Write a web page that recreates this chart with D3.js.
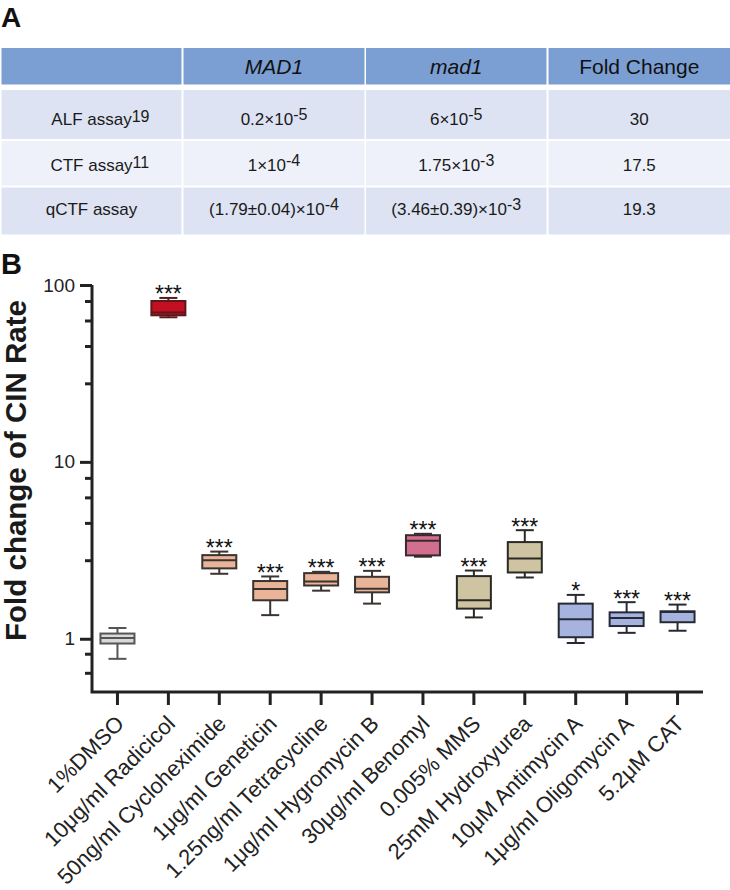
<!DOCTYPE html>
<html>
<head>
<meta charset="utf-8">
<script src="https://cdn.jsdelivr.net/npm/d3@7"></script>
<style>
  html, body { margin: 0; padding: 0; background: #fff; }
  svg { display: block; font-family: "Liberation Sans", Arial, Helvetica, sans-serif; }
</style>
</head>
<body>
<svg id="chart" width="730" height="890"></svg>
<script>
// ---------------- Panel A data (table) ----------------
const tableHeaders = ["", "MAD1", "mad1", "Fold Change"];
const headerItalic = [false, true, true, false];
const assayNames = ["ALF assay", "CTF assay", "qCTF assay"];
const assayRefs = ["19", "11", ""];
const wtBase = ["0.2×10", "1×10", "(1.79±0.04)×10"];
const wtExp = ["-5", "-4", "-4"];
const mutBase = ["6×10", "1.75×10", "(3.46±0.39)×10"];
const mutExp = ["-5", "-3", "-3"];
const foldChange = ["30", "17.5", "19.3"];

// ---------------- Panel B data (box plots) ----------------
const categories = ["1%DMSO", "10μg/ml Radicicol", "50ng/ml Cycloheximide", "1μg/ml Geneticin",
  "1.25ng/ml Tetracycline", "1μg/ml Hygromycin B", "30μg/ml Benomyl", "0.005% MMS",
  "25mM Hydroxyurea", "10μM Antimycin A", "1μg/ml Oligomycin A", "5.2μM CAT"];
const whiskerLow  = [0.77, 65.7, 2.33, 1.36, 1.87, 1.58, 2.91, 1.32, 2.22, 0.946, 1.08, 1.11];
const q1          = [0.94, 67.4, 2.50, 1.65, 2.00, 1.83, 2.96, 1.48, 2.37, 1.02, 1.18, 1.24];
const median      = [1.01, 69.8, 2.78, 1.91, 2.11, 1.92, 3.58, 1.65, 2.84, 1.29, 1.31, 1.415];
const q3          = [1.07, 81.2, 2.97, 2.12, 2.35, 2.24, 3.85, 2.26, 3.52, 1.58, 1.41, 1.43];
const whiskerHigh = [1.15, 84.5, 3.11, 2.25, 2.39, 2.42, 3.92, 2.43, 4.11, 1.77, 1.61, 1.56];
const significance = ["", "***", "***", "***", "***", "***", "***", "***", "***", "*", "***", "***"];
const yMajorTicks = [1, 10, 100];
const yTickLabels = ["1", "10", "100"];
const yMinorTicks = [0.642, 0.823, 2.78, 4.52, 6.30, 8.12, 27.8, 45.2, 63.0, 81.2];
const yDomain = [0.5, 100];
const yAxisTitle = "Fold change of CIN Rate";

// ---------------- styles ----------------
const boxFill = ["#d9d9d9", "#c40f22", "#e9b498", "#e9b498", "#e9b498", "#e9b498",
  "#d26f8e", "#cec4a1", "#cec4a1", "#a5b3de", "#a5b3de", "#a5b3de"];
const boxStroke = ["#555", "#5a1a1a", "#3a3330", "#3a3330", "#3a3330", "#3a3330",
  "#3a2a30", "#2a2a25", "#2a2a25", "#252a35", "#252a35", "#252a35"];

const svg = d3.select("#chart");
svg.append("rect").attr("width", 730).attr("height", 890).attr("fill", "#fff");

// ---------------- Panel A ----------------
svg.append("text").attr("x", 1).attr("y", 27).attr("font-size", 28).attr("font-weight", "bold")
  .attr("fill", "#111").text("A");

const colX0 = [1.5, 183.5, 366, 548.5];
const colX1 = [181.5, 364.5, 546.5, 730];
const rowY0 = [48, 90, 141, 187.5];
const rowY1 = [84.5, 139, 185.5, 234.5];
const rowFill = ["#7b9fd3", "#dde3f2", "#eef1f9", "#dde3f2"];
const rowBaseline = [74, 124.5, 171, 215];

const tbl = svg.append("g");
for (let r = 0; r < 4; r++) {
  for (let c = 0; c < 4; c++) {
    tbl.append("rect").attr("x", colX0[c]).attr("y", rowY0[r])
      .attr("width", colX1[c] - colX0[c]).attr("height", rowY1[r] - rowY0[r])
      .attr("fill", rowFill[r]);
  }
}
const colCenter = c => (colX0[c] + colX1[c]) / 2;
tableHeaders.forEach((h, c) => {
  if (!h) return;
  tbl.append("text").attr("x", colCenter(c)).attr("y", rowBaseline[0])
    .attr("text-anchor", "middle").attr("font-size", 21)
    .attr("font-style", headerItalic[c] ? "italic" : "normal").attr("fill", "#111").text(h);
});

function supText(g, cx, y, base, sup, supDy, centerBaseOnly) {
  const t = g.append("text").attr("y", y).attr("font-size", 17).attr("fill", "#1a1a1a");
  t.append("tspan").text(base);
  if (sup) t.append("tspan").attr("dy", -supDy).attr("font-size", 16).text(sup);
  let w = t.node().getComputedTextLength();
  if (centerBaseOnly) w = t.select("tspan").node().getComputedTextLength();
  t.attr("x", cx - w / 2);
  return t;
}
for (let r = 0; r < 3; r++) {
  const yy = rowBaseline[r + 1];
  supText(tbl, colCenter(0), yy, assayNames[r], assayRefs[r], 3, true);
  supText(tbl, colCenter(1), yy, wtBase[r], wtExp[r], 5, false);
  supText(tbl, colCenter(2), yy, mutBase[r], mutExp[r], 5, false);
  tbl.append("text").attr("x", colCenter(3)).attr("y", yy).attr("text-anchor", "middle")
    .attr("font-size", 17).attr("fill", "#1a1a1a").text(foldChange[r]);
}

// ---------------- Panel B ----------------
svg.append("text").attr("x", 1).attr("y", 274).attr("font-size", 29).attr("font-weight", "bold")
  .attr("fill", "#111").text("B");

const x = d3.scaleBand().domain(categories).range([92, 703]).padding(0);
const y = d3.scaleLog().domain(yDomain).range([692, 285]);
const axisColor = "#222";

// y axis
const yAxis = svg.append("g").attr("transform", "translate(92,0)");
yAxis.call(d3.axisLeft(y).tickValues(yMajorTicks).tickFormat((d, i) => yTickLabels[i])
  .tickSize(12).tickSizeOuter(0).tickPadding(5));
yAxis.select(".domain").remove();
yAxis.selectAll(".tick line").attr("stroke", axisColor).attr("stroke-width", 3);
yAxis.selectAll(".tick text").attr("font-size", 19).attr("fill", "#222")
  .attr("font-family", "'Liberation Sans', Arial, sans-serif");
const yMinor = svg.append("g").attr("transform", "translate(92,0)");
yMinor.call(d3.axisLeft(y).tickValues(yMinorTicks).tickFormat("").tickSize(7).tickSizeOuter(0));
yMinor.select(".domain").remove();
yMinor.selectAll(".tick line").attr("stroke", axisColor).attr("stroke-width", 3);

// x axis
const xAxis = svg.append("g").attr("transform", "translate(0,692)");
xAxis.call(d3.axisBottom(x).tickSize(13).tickSizeOuter(0).tickFormat(""));
xAxis.select(".domain").remove();
xAxis.selectAll(".tick line").attr("stroke", axisColor).attr("stroke-width", 3);

// axis lines
svg.append("path").attr("d", `M92,${y(100)}V692H703`).attr("fill", "none")
  .attr("stroke", axisColor).attr("stroke-width", 3).attr("stroke-linejoin", "miter");

// x labels
svg.append("g").selectAll("text").data(categories).join("text")
  .attr("transform", d => `translate(${x(d) + x.bandwidth() / 2 + 8},725) rotate(-45)`)
  .attr("text-anchor", "end").attr("font-size", 22).attr("fill", "#222").text(d => d);

// y title
svg.append("text").attr("transform", "translate(26,470.5) rotate(-90)")
  .attr("text-anchor", "middle").attr("font-size", 29.5).attr("font-weight", "bold")
  .attr("fill", "#1a1a1a").text(yAxisTitle);

// boxes
const boxW = 34, capW = 18;
const gBox = svg.append("g");
categories.forEach((c, i) => {
  const cx = x(c) + x.bandwidth() / 2;
  const g = gBox.append("g");
  const st = boxStroke[i];
  g.append("line").attr("x1", cx).attr("x2", cx).attr("y1", y(whiskerHigh[i])).attr("y2", y(q3[i]))
    .attr("stroke", st).attr("stroke-width", 2);
  g.append("line").attr("x1", cx).attr("x2", cx).attr("y1", y(q1[i])).attr("y2", y(whiskerLow[i]))
    .attr("stroke", st).attr("stroke-width", 2);
  g.append("line").attr("x1", cx - capW / 2).attr("x2", cx + capW / 2)
    .attr("y1", y(whiskerHigh[i])).attr("y2", y(whiskerHigh[i])).attr("stroke", st).attr("stroke-width", 2);
  g.append("line").attr("x1", cx - capW / 2).attr("x2", cx + capW / 2)
    .attr("y1", y(whiskerLow[i])).attr("y2", y(whiskerLow[i])).attr("stroke", st).attr("stroke-width", 2);
  g.append("rect").attr("x", cx - boxW / 2).attr("y", y(q3[i]))
    .attr("width", boxW).attr("height", y(q1[i]) - y(q3[i]))
    .attr("fill", boxFill[i]).attr("stroke", st).attr("stroke-width", 2);
  g.append("line").attr("x1", cx - boxW / 2).attr("x2", cx + boxW / 2)
    .attr("y1", y(median[i])).attr("y2", y(median[i])).attr("stroke", st).attr("stroke-width", 2);
  if (significance[i]) {
    g.append("text").attr("x", cx).attr("y", y(whiskerHigh[i]) + 4.5).attr("text-anchor", "middle")
      .attr("font-size", 23).attr("fill", "#111").text(significance[i]);
  }
});
</script>
</body>
</html>
